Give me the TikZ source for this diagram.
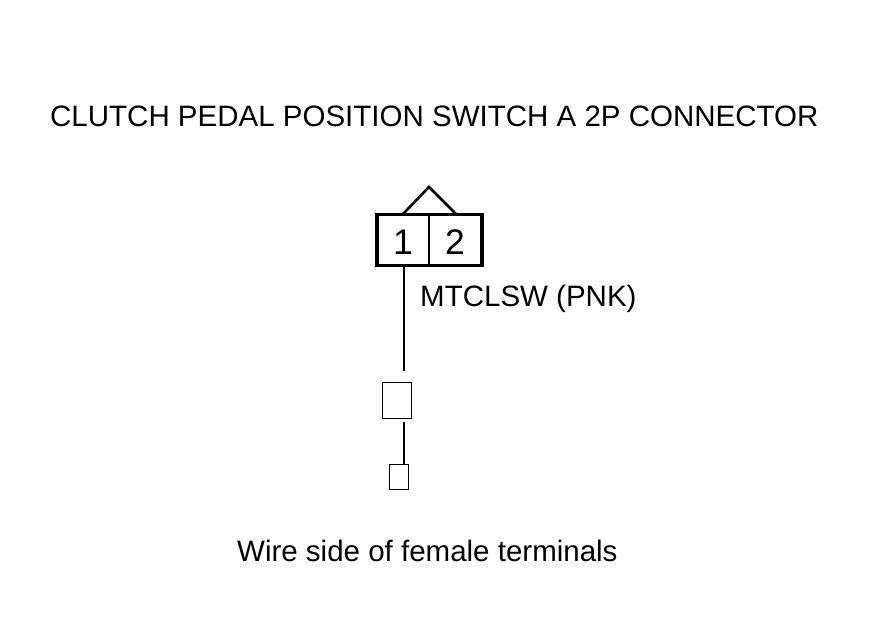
\documentclass[tikz,border=0pt]{standalone}
\usepackage{fontspec}
\setmainfont{Liberation Sans}
\begin{document}
\begin{tikzpicture}[x=1pt,y=-1pt,
  lbl/.style={inner sep=0pt,font=\fontsize{29.5}{32}\selectfont,anchor=base west},
  pin/.style={inner sep=0pt,font=\fontsize{35.5}{38}\selectfont,anchor=base},
  term/.style={draw=black,line width=1pt,inner sep=0pt,minimum width=#1},
  thick box/.style={draw=black,line width=3.2pt,inner sep=0pt}]
\useasboundingbox (0,0) rectangle (880,630);
\node[lbl] (title) at (50,126) {CLUTCH PEDAL POSITION SWITCH A 2P CONNECTOR};
\node[thick box,minimum width=105pt,minimum height=51pt] (conn) at (429.5,240) {};
\coordinate (divt) at (429,215); \coordinate (divb) at (429,266);
\draw[line width=1.8pt] (divt)--(divb);
\coordinate (ka) at (403,214); \coordinate (kb) at (429,187); \coordinate (kc) at (456,214);
\draw[line width=2.6pt] (ka)--(kb)--(kc);
\node[pin] (p1) at (403,254) {1};
\node[pin] (p2) at (455,254) {2};
\node[lbl] (wire) at (420,306) {MTCLSW (PNK)};
\coordinate (w1) at (404,266); \coordinate (w2) at (404,371);
\draw[line width=1.5pt] (w1)--(w2);
\node[term=29pt,minimum height=36pt] (t1) at (397,400.5) {};
\coordinate (w3) at (404,422); \coordinate (w4) at (404,465);
\draw[line width=1.5pt] (w3)--(w4);
\node[term=19pt,minimum height=25pt] (t2) at (398.5,476.5) {};
\node[lbl] (cap) at (237,561) {Wire side of female terminals};
\end{tikzpicture}
\end{document}
